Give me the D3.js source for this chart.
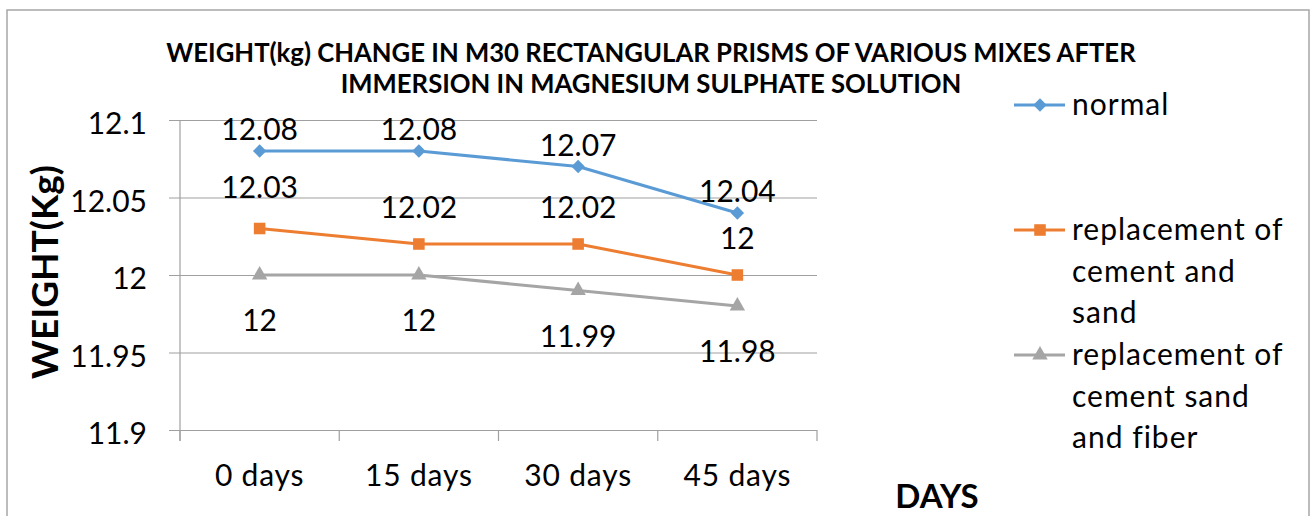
<!DOCTYPE html>
<html><head><meta charset="utf-8">
<script src="https://cdn.jsdelivr.net/npm/d3@7/dist/d3.min.js"></script>
<style>
html,body{margin:0;padding:0;background:#fff;}
svg{display:block;font-family:Lato,"Open Sans",sans-serif;}
</style></head>
<body><svg id="chart" width="1312" height="516"></svg>
<script>
const categories = ["0 days", "15 days", "30 days", "45 days"];
const normal = [12.08, 12.08, 12.07, 12.04];
const cementSand = [12.03, 12.02, 12.02, 12.00];
const cementSandFiber = [12.00, 12.00, 11.99, 11.98];
const yTicks = [11.9, 11.95, 12, 12.05, 12.1];
const seriesNames = ["normal", "replacement of cement and sand", "replacement of cement sand and fiber"];
const legendLines = [["normal"], ["replacement of", "cement and", "sand"], ["replacement of", "cement sand", "and fiber"]];
const titleLines = ["WEIGHT(kg) CHANGE IN M30 RECTANGULAR PRISMS OF VARIOUS MIXES AFTER", "IMMERSION IN MAGNESIUM SULPHATE SOLUTION"];
const yTitle = "WEIGHT(Kg)";
const xTitle = "DAYS";

const svg = d3.select("#chart");
const fmt = v => String(+v.toFixed(2));

// frame
svg.append("rect").attr("x", 7).attr("y", 10).attr("width", 1302).attr("height", 520)
  .attr("fill", "#fff").attr("stroke", "#A6A6A6").attr("stroke-width", 1.5);

const plot = {left: 180, right: 817, top: 120, bottom: 430};
const x = d3.scalePoint().domain(categories).range([plot.left, plot.right]).padding(0.5);
const y = d3.scaleLinear().domain([11.9, 12.1]).range([plot.bottom, plot.top]);
const xBand = d3.scaleBand().domain(categories).range([plot.left, plot.right]);

const gridColor = "#A0A0A0";
// horizontal gridlines + y ticks
const yAxis = d3.axisLeft(y).tickValues(yTicks).tickSize(11).tickFormat(fmt).tickPadding(22);
const gy = svg.append("g").attr("transform", `translate(${plot.left},0)`).call(yAxis);
gy.select(".domain").remove();
gy.selectAll(".tick line").attr("stroke", gridColor).attr("stroke-width", 1.2).attr("x2", plot.right - plot.left).attr("x1", -11);
gy.selectAll(".tick text").attr("font-size", 30).attr("fill", "#000").attr("font-family", "Lato").attr("dy", "0.45em");

// vertical axis line
svg.append("line").attr("x1", plot.left).attr("x2", plot.left).attr("y1", plot.top).attr("y2", plot.bottom + 11)
  .attr("stroke", gridColor).attr("stroke-width", 1.2);

// x axis ticks at band boundaries
const bounds = categories.map(c => xBand(c)).concat([xBand(categories[categories.length-1]) + xBand.bandwidth()]);
svg.append("g").selectAll("line").data(bounds).join("line")
  .attr("x1", d => d).attr("x2", d => d).attr("y1", plot.bottom).attr("y2", plot.bottom + 11)
  .attr("stroke", gridColor).attr("stroke-width", 1.2);
svg.append("g").selectAll("text").data(categories).join("text")
  .attr("x", d => x(d)).attr("y", 486).attr("text-anchor", "middle")
  .attr("font-size", 30).attr("letter-spacing", 0.8).text(d => d);

// series
const series = [
  {name: seriesNames[0], values: normal, color: "#5B9BD5", marker: "diamond", labelDy: [-11, -11, -11, -11]},
  {name: seriesNames[1], values: cementSand, color: "#ED7D31", marker: "square", labelDy: [-31, -26, -26, -26]},
  {name: seriesNames[2], values: cementSandFiber, color: "#A5A5A5", marker: "triangle", labelDy: [56, 56, 56, 56]}
];
const symbolFor = m => m === "diamond" ? d3.symbol().type(d3.symbolDiamond2).size(115)
  : m === "square" ? d3.symbol().type(d3.symbolSquare2).size(170)
  : d3.symbol().type(d3.symbolTriangle2).size(170);

const line = d3.line().x((d, i) => x(categories[i])).y(d => y(d));
series.forEach(s => {
  svg.append("path").attr("d", line(s.values)).attr("fill", "none")
    .attr("stroke", s.color).attr("stroke-width", 3).attr("stroke-linejoin", "round");
});
series.forEach(s => {
  const g = svg.append("g");
  g.selectAll("path").data(s.values).join("path")
    .attr("transform", (d, i) => `translate(${x(categories[i])},${y(d)})`)
    .attr("d", symbolFor(s.marker)()).attr("fill", s.color);
});
series.forEach(s => {
  svg.append("g").selectAll("text").data(s.values).join("text")
    .attr("x", (d, i) => x(categories[i])).attr("y", (d, i) => y(d) + s.labelDy[i])
    .attr("text-anchor", "middle").attr("font-size", 30).text(d => fmt(d));
});

// title
svg.append("g").selectAll("text").data(titleLines).join("text")
  .attr("x", 651).attr("y", (d, i) => 62 + i * 31).attr("text-anchor", "middle")
  .attr("font-size", 25.7).attr("font-weight", "bold").text(d => d);

// axis titles
svg.append("text").attr("transform", "translate(58,272) rotate(-90)").attr("text-anchor", "middle")
  .attr("font-size", 37).attr("font-weight", "bold").text(yTitle);
svg.append("text").attr("x", 937).attr("y", 508).attr("text-anchor", "middle")
  .attr("font-size", 33).attr("font-weight", "bold").text(xTitle);

// legend
const legendY = [105, 230, 355];
const lg = svg.append("g");
series.forEach((s, k) => {
  const g = lg.append("g").attr("transform", `translate(0,${legendY[k]})`);
  g.append("line").attr("x1", 1014).attr("x2", 1065).attr("y1", 0).attr("y2", 0)
    .attr("stroke", s.color).attr("stroke-width", 3);
  g.append("path").attr("transform", "translate(1040,0)").attr("d", symbolFor(s.marker)()).attr("fill", s.color);
  g.selectAll("text").data(legendLines[k]).join("text")
    .attr("x", 1072).attr("y", (d, i) => 10 + i * 41.5).attr("font-size", 30).attr("letter-spacing", 1).text(d => d);
});
</script></body></html>
